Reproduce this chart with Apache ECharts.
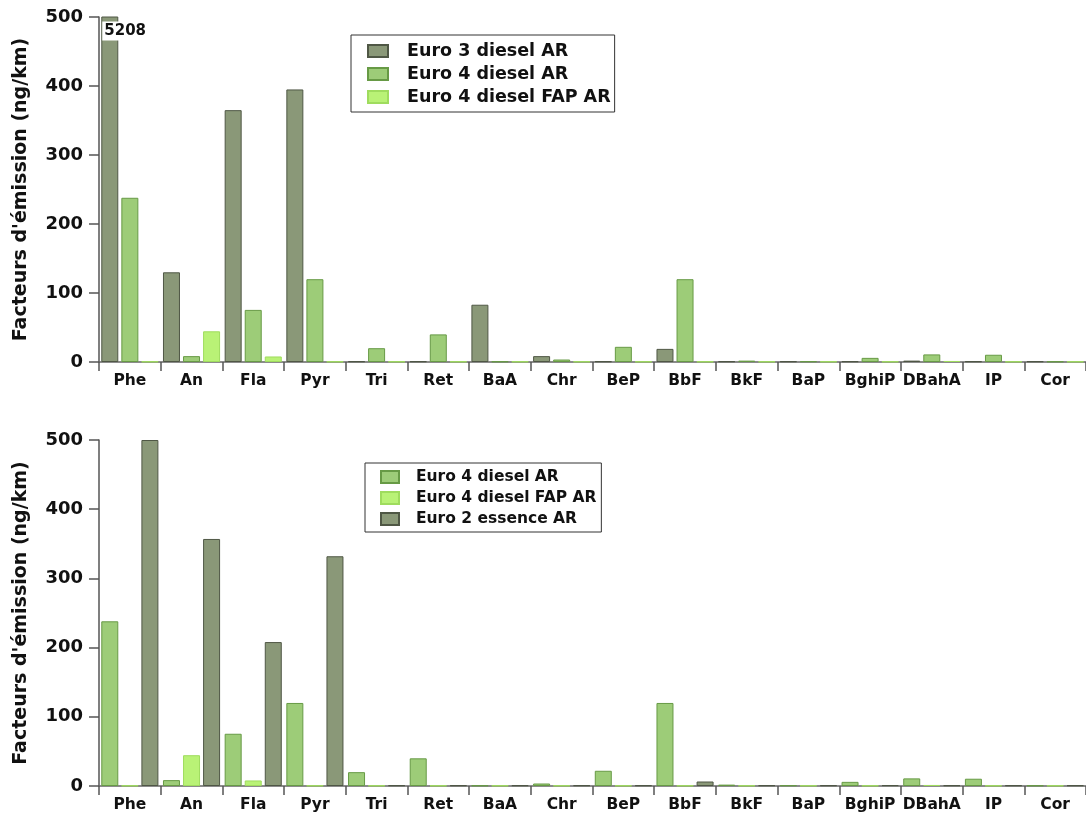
<!DOCTYPE html>
<html>
<head>
<meta charset="utf-8">
<script src="https://cdn.jsdelivr.net/npm/echarts@6/dist/echarts.min.js"></script>
<style>
html,body{margin:0;padding:0;background:#fff;}
#c{width:1086px;height:814px;}
</style>
</head>
<body>
<div id="c"></div>
<script>
const categories = ['Phe','An','Fla','Pyr','Tri','Ret','BaA','Chr','BeP','BbF','BkF','BaP','BghiP','DBahA','IP','Cor'];
const yTicks = [0, 100, 200, 300, 400, 500];
const yTitle = "Facteurs d'émission (ng/km)";

const euro3Diesel   = [5208, 130, 365, 395, 1, 1, 83, 8.5, 1, 19, 1, 1, 1, 2, 1, 1];
const euro4Diesel   = [238, 8.5, 75.5, 120, 20, 40, 0.8, 3.6, 22, 120, 2, 1, 6, 11, 10.5, 0.8];
const euro4FAP      = [0.6, 44.5, 8, 0.6, 0.6, 0.6, 0.6, 0.6, 0.6, 0.6, 0.6, 0.6, 0.6, 1.5, 0.6, 0.6];
const euro2Essence  = [500, 357, 208, 332, 1, 1, 1, 1, 1, 6.5, 1, 1, 1.2, 1, 1, 1];

const names = ['Euro 3 diesel AR','Euro 4 diesel AR','Euro 4 diesel FAP AR','Euro 2 essence AR'];

const FONT = 'DejaVu Sans';
const styles = {
  dark:  {color:'#8a9878', borderColor:'#4f5745', borderWidth:1},
  mid:   {color:'#9dcc78', borderColor:'#679a45', borderWidth:1},
  light: {color:'#b9f276', borderColor:'#9fdc5e', borderWidth:1}
};

function xAxis(gi){
  return {
    type:'category', gridIndex:gi, data:categories, boundaryGap:true,
    axisLine:{show:true, lineStyle:{color:'#666', width:1.5}},
    axisTick:{show:true, interval:0, length:9, lineStyle:{color:'#555', width:1.5}},
    axisLabel:{interval:0, margin:11, fontFamily:FONT, fontWeight:'bold', fontSize:15.5, color:'#111'}
  };
}
function yAxis(gi){
  return {
    type:'value', gridIndex:gi, min:yTicks[0], max:yTicks[yTicks.length-1], interval:100,
    name:yTitle, nameLocation:'middle', nameGap:68,
    nameTextStyle:{fontFamily:FONT, fontWeight:'bold', fontSize:19, color:'#111'},
    axisLine:{show:true, lineStyle:{color:'#555', width:1.5}},
    axisTick:{show:true, length:10, lineStyle:{color:'#555', width:1.5}},
    splitLine:{show:false},
    axisLabel:{margin:16, fontFamily:FONT, fontWeight:'bold', fontSize:18, color:'#111'}
  };
}
function bar(name, data, st, gi, extra){
  return Object.assign({
    type:'bar', name:name, data:data, xAxisIndex:gi, yAxisIndex:gi,
    barWidth:17, barGap:'18%', clip:true, itemStyle:st, animation:false
  }, extra||{});
}

const topFirst = euro3Diesel.map((v,i)=> i===0 ? {
  value:v,
  label:{show:true, position:[1,5], formatter:'{c}', fontFamily:FONT, fontWeight:'bold', fontSize:15,
         color:'#111', backgroundColor:'#fff', padding:[2,2,2,2]}
} : v);

const chart = echarts.init(document.getElementById('c'), null, {renderer:'canvas'});
chart.setOption({
  animation:false,
  backgroundColor:'#fff',
  grid:[
    {left:99, top:17, right:0, height:345},
    {left:99, top:440, right:0, height:346}
  ],
  xAxis:[xAxis(0), xAxis(1)],
  yAxis:[yAxis(0), yAxis(1)],
  legend:[
    {data:[names[0],names[1],names[2]], orient:'vertical', left:351, top:35, icon:'rect',
     padding:[7,4,6,16], itemWidth:20, itemHeight:12, itemGap:5,
     borderColor:'#333', borderWidth:1, backgroundColor:'#fff', selectedMode:false,
     textStyle:{fontFamily:FONT, fontWeight:'bold', fontSize:17.5, color:'#111', padding:[0,0,0,14]}},
    {data:[names[1],names[2],names[3]], orient:'vertical', left:365, top:463, icon:'rect',
     padding:[6,5,5,15], itemWidth:18, itemHeight:12, itemGap:5,
     borderColor:'#333', borderWidth:1, backgroundColor:'#fff', selectedMode:false,
     textStyle:{fontFamily:FONT, fontWeight:'bold', fontSize:15.5, color:'#111', padding:[0,0,0,12]}}
  ],
  series:[
    bar(names[0], topFirst, styles.dark, 0),
    bar(names[1], euro4Diesel, styles.mid, 0),
    bar(names[2], euro4FAP, styles.light, 0),
    bar(names[1], euro4Diesel, styles.mid, 1),
    bar(names[2], euro4FAP, styles.light, 1),
    bar(names[3], euro2Essence, styles.dark, 1)
  ]
});
</script>
</body>
</html>
